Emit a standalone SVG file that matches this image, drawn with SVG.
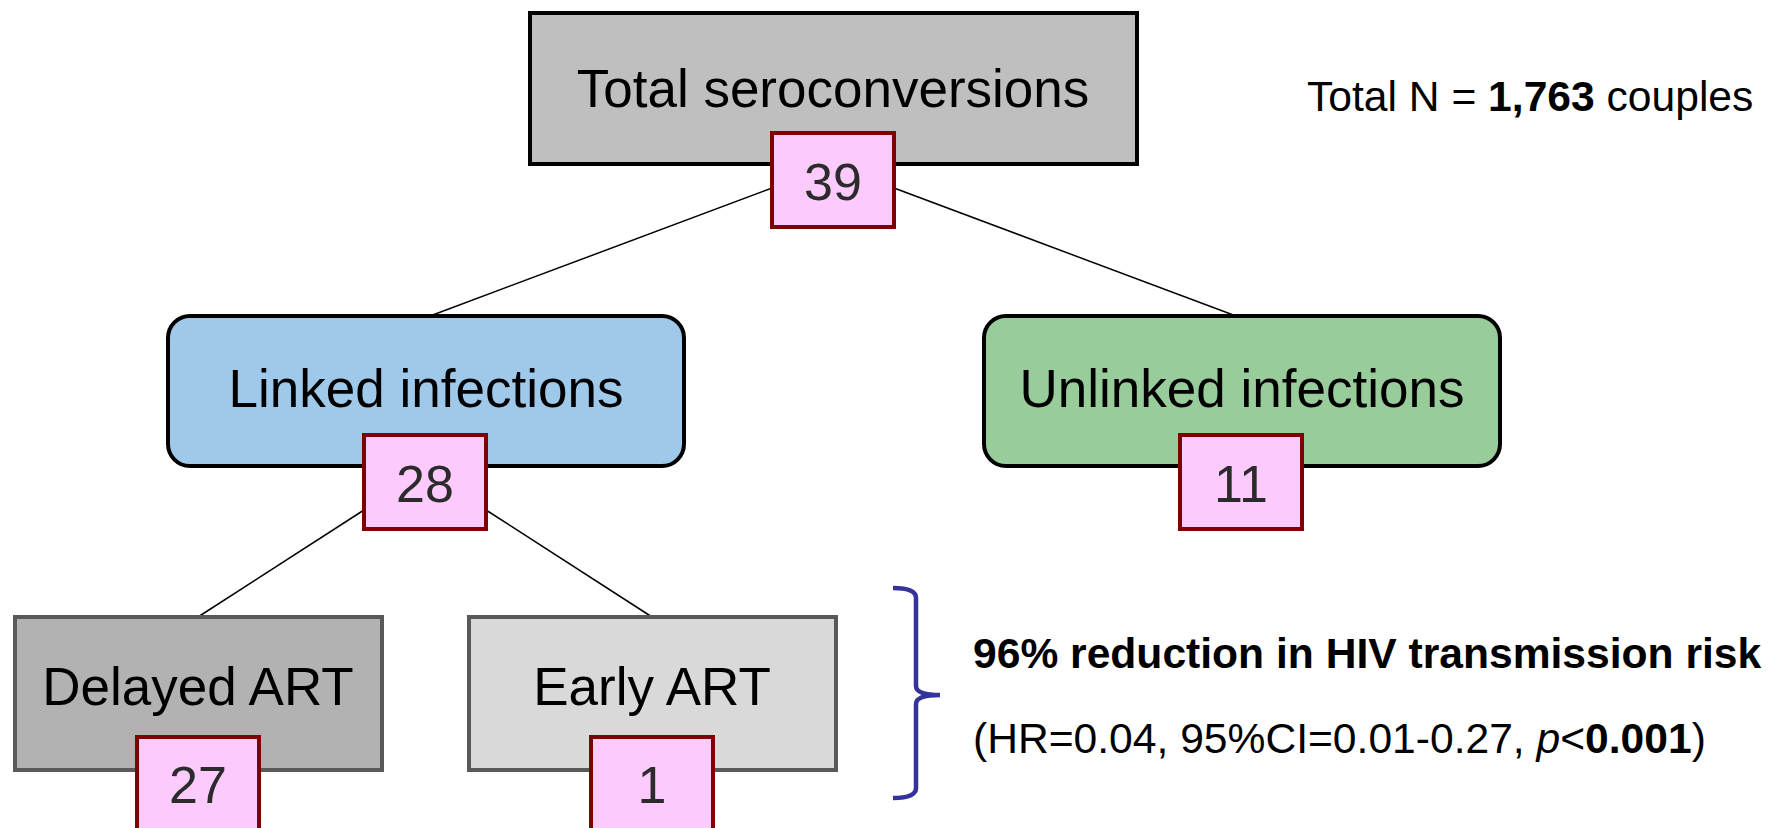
<svg xmlns="http://www.w3.org/2000/svg" width="1788" height="828" viewBox="0 0 1788 828">
<style>
.lbl{font-family:"Liberation Sans",Arial,sans-serif;font-size:53px;fill:#000;text-anchor:middle}
.num{font-family:"Liberation Sans",Arial,sans-serif;font-size:52px;fill:#2b2b2b;text-anchor:middle}
.badge{fill:#fdcafd;stroke:#800000;stroke-width:4}
.conn{stroke:#000;stroke-width:1.5;fill:none}
.note{font-family:"Liberation Sans",Arial,sans-serif;font-size:42.6px;fill:#000}
</style>
<rect width="1788" height="828" fill="#fff"/>
<g id="connectors">
<line class="conn" x1="772" y1="188" x2="430" y2="316"/>
<line class="conn" x1="894" y1="188" x2="1236" y2="316"/>
<line class="conn" x1="364" y1="510" x2="198" y2="617"/>
<line class="conn" x1="486" y1="510" x2="652" y2="617"/>
</g>
<g id="total">
<rect x="530" y="13" width="607" height="151" fill="#bfbfbf" stroke="#000" stroke-width="4"/>
<text class="lbl" x="833" y="107">Total seroconversions</text>
<rect class="badge" x="772" y="133" width="122" height="94"/>
<text class="num" x="833" y="200">39</text>
</g>
<g id="linked">
<rect x="168" y="316" width="516" height="150" rx="22" fill="#9fc9ea" stroke="#000" stroke-width="4"/>
<text class="lbl" x="426" y="407">Linked infections</text>
<rect class="badge" x="364" y="435" width="122" height="94"/>
<text class="num" x="425" y="502">28</text>
</g>
<g id="unlinked">
<rect x="984" y="316" width="516" height="150" rx="22" fill="#99cc9b" stroke="#000" stroke-width="4"/>
<text class="lbl" x="1242" y="407">Unlinked infections</text>
<rect class="badge" x="1180" y="435" width="122" height="94"/>
<text class="num" x="1241" y="502">11</text>
</g>
<g id="delayed">
<rect x="15" y="617" width="367" height="153" fill="#b2b2b2" stroke="#595959" stroke-width="4"/>
<text class="lbl" x="198" y="705">Delayed ART</text>
<rect class="badge" x="137" y="737" width="122" height="94"/>
<text class="num" x="198" y="803">27</text>
</g>
<g id="early">
<rect x="469" y="617" width="367" height="153" fill="#d9d9d9" stroke="#595959" stroke-width="4"/>
<text class="lbl" x="652" y="705">Early ART</text>
<rect class="badge" x="591" y="737" width="122" height="94"/>
<text class="num" x="652" y="803">1</text>
</g>
<g id="bracket">
<path d="M893,588 Q916,588 916,598 L916,686 Q916,695 940,695 Q916,695 916,704 L916,788 Q916,798 893,798" fill="none" stroke="#333399" stroke-width="4.5"/>
</g>
<g id="result">
<text class="note" x="973" y="668" font-weight="bold">96% reduction in HIV transmission risk</text>
<text class="note" x="973" y="753">(HR=0.04, 95%CI=0.01-0.27, <tspan font-style="italic">p</tspan>&lt;<tspan font-weight="bold">0.001</tspan>)</text>
</g>
<g id="total-n">
<text class="note" x="1307" y="111">Total N = <tspan font-weight="bold">1,763</tspan> couples</text>
</g>
</svg>
